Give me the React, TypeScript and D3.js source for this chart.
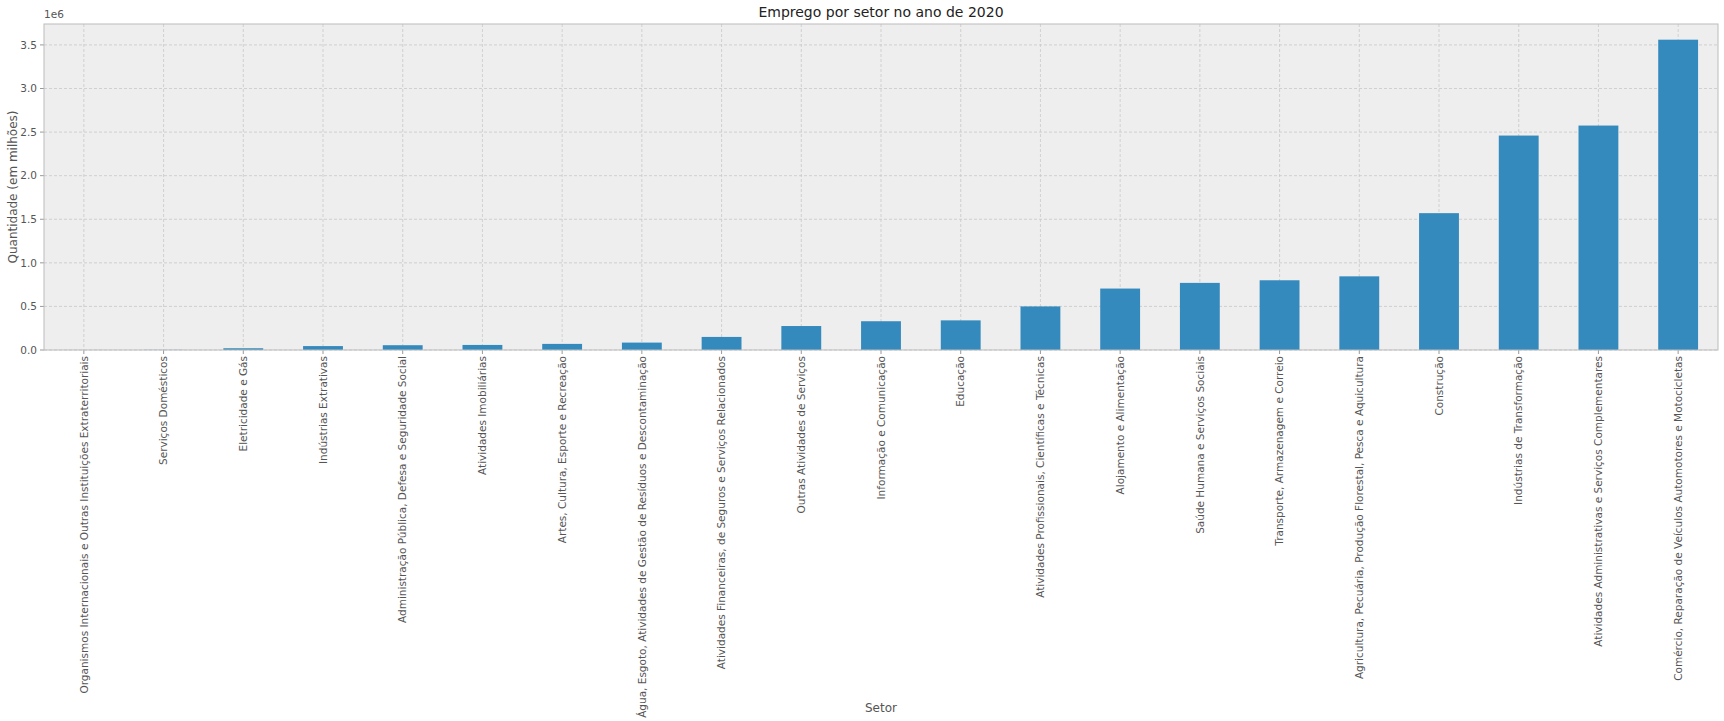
import * as d3 from "d3";

const categories = [
  "Organismos Internacionais e Outras Instituições Extraterritoriais",
  "Serviços Domésticos",
  "Eletricidade e Gás",
  "Indústrias Extrativas",
  "Administração Pública, Defesa e Seguridade Social",
  "Atividades Imobiliárias",
  "Artes, Cultura, Esporte e Recreação",
  "Água, Esgoto, Atividades de Gestão de Resíduos e Descontaminação",
  "Atividades Financeiras, de Seguros e Serviços Relacionados",
  "Outras Atividades de Serviços",
  "Informação e Comunicação",
  "Educação",
  "Atividades Profissionais, Científicas e Técnicas",
  "Alojamento e Alimentação",
  "Saúde Humana e Serviços Sociais",
  "Transporte, Armazenagem e Correio",
  "Agricultura, Pecuária, Produção Florestal, Pesca e Aquicultura",
  "Construção",
  "Indústrias de Transformação",
  "Atividades Administrativas e Serviços Complementares",
  "Comércio, Reparação de Veículos Automotores e Motocicletas",
];
const values = [
  500, 1500, 20000, 45000, 55000, 58000, 70000, 85000, 150000, 275000, 330000,
  340000, 500000, 705000, 770000, 800000, 845000, 1570000, 2460000, 2575000, 3560000,
];
const yTicks = [0, 0.5e6, 1e6, 1.5e6, 2e6, 2.5e6, 3e6, 3.5e6];

const W = 1724, H = 721;
const L = 44, R = 1718, T = 24, B = 350;
const font = "DejaVu Sans, sans-serif";
const txt = "#555555";

export default function App() {
  const x = d3.scaleBand<string>().domain(categories).range([L, R]).paddingInner(0.5).paddingOuter(0.25);
  const y = d3.scaleLinear().domain([0, 3.74e6]).range([B, T]);
  return (
    <svg width={W} height={H} style={{ position: "absolute", left: 0, top: 0 }} fontFamily={font}>
      <rect width={W} height={H} fill="white" />
      <rect x={L} y={T} width={R - L} height={B - T} fill="#eeeeee" />
      {yTicks.map((t) => (
        <g key={t}>
          <line x1={L} x2={R} y1={y(t)} y2={y(t)} stroke="#c8c8c8" strokeDasharray="3,2" strokeWidth={0.8} />
          <line x1={L - 4} x2={L} y1={y(t)} y2={y(t)} stroke="#999" />
          <text x={L - 7} y={y(t)} dy="0.35em" textAnchor="end" fontSize={10.5} fill={txt}>
            {(t / 1e6).toFixed(1)}
          </text>
        </g>
      ))}
      {categories.map((c) => {
        const cx = x(c)! + x.bandwidth() / 2;
        return (
          <g key={c}>
            <line x1={cx} x2={cx} y1={T} y2={B} stroke="#c8c8c8" strokeDasharray="3,2" strokeWidth={0.8} />
            <line x1={cx} x2={cx} y1={B} y2={B + 4} stroke="#999" />
            <text transform={`translate(${cx},${B + 6}) rotate(-90)`} dy="0.35em" textAnchor="end" fontSize={10.5} fill={txt}>
              {c}
            </text>
          </g>
        );
      })}
      {categories.map((c, i) => (
        <rect key={c} x={x(c)!} y={y(values[i])} width={x.bandwidth()} height={B - y(values[i])} fill="#348abd" />
      ))}
      <rect x={L} y={T} width={R - L} height={B - T} fill="none" stroke="#bcbcbc" />
      <text x={L} y={T - 6} fontSize={10.5} fill={txt}>1e6</text>
      <text x={(L + R) / 2} y={T - 7} textAnchor="middle" fontSize={14} fill="#222">Emprego por setor no ano de 2020</text>
      <text x={(L + R) / 2} y={712} textAnchor="middle" fontSize={12} fill={txt}>Setor</text>
      <text transform={`translate(17,${(T + B) / 2}) rotate(-90)`} textAnchor="middle" fontSize={12} fill={txt}>
        Quantidade (em milhões)
      </text>
    </svg>
  );
}
